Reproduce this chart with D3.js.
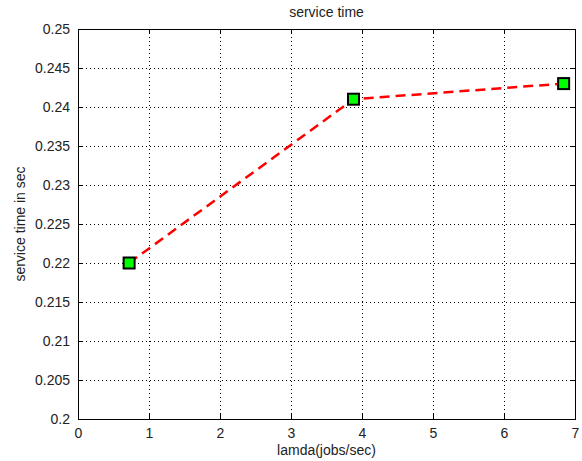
<!DOCTYPE html>
<html>
<head>
<meta charset="utf-8">
<script src="https://cdn.jsdelivr.net/npm/d3@7"></script>
<style>
  body { margin: 0; background: #fff; }
  text { font-family: "Liberation Sans", Arial, sans-serif; fill: #222; }
</style>
</head>
<body>
<div id="chart"></div>
<script>
// data
let lamda = [0.72, 3.88, 6.84];
let serviceTime = [0.220, 0.241, 0.243];
let xTicks = [0, 1, 2, 3, 4, 5, 6, 7];
let yTicks = [0.2, 0.205, 0.21, 0.215, 0.22, 0.225, 0.23, 0.235, 0.24, 0.245, 0.25];

let width = 582, height = 461;
let margin = {left: 78, right: 7, top: 29, bottom: 42};
let w = width - margin.left - margin.right;
let h = height - margin.top - margin.bottom;

let svg = d3.select('#chart')
    .append("svg")
    .attr("width", width)
    .attr("height", height);

let g = svg.append("g")
    .attr("transform", "translate(" + margin.left + "," + margin.top + ")");

let x = d3.scaleLinear().domain([0, 7]).range([0, w]);
let y = d3.scaleLinear().domain([0.2, 0.25]).range([h, 0]);

// grid
g.append("g").selectAll("line").data(xTicks.slice(1, -1)).enter()
    .append("line")
    .attr("x1", d => x(d)).attr("x2", d => x(d))
    .attr("y1", 0).attr("y2", h)
    .attr("stroke", "#000").attr("stroke-width", 1)
    .attr("stroke-dasharray", "1,3")
    .attr("shape-rendering", "crispEdges");
g.append("g").selectAll("line").data(yTicks.slice(1, -1)).enter()
    .append("line")
    .attr("y1", d => y(d)).attr("y2", d => y(d))
    .attr("x1", 0).attr("x2", w)
    .attr("stroke", "#000").attr("stroke-width", 1)
    .attr("stroke-dasharray", "1,3")
    .attr("shape-rendering", "crispEdges");

// axes, ticks inward
let fmt = d => d3.format("")(+d.toFixed(3));
g.append("g").attr("transform", "translate(0," + h + ")")
    .call(d3.axisBottom(x).tickValues(xTicks).tickSize(-5).tickPadding(9).tickFormat(fmt));
g.append("g")
    .call(d3.axisLeft(y).tickValues(yTicks).tickSize(-5).tickPadding(8).tickFormat(fmt));
g.append("g")
    .call(d3.axisTop(x).tickValues(xTicks).tickSize(-5).tickFormat(""));
g.append("g").attr("transform", "translate(" + w + ",0)")
    .call(d3.axisRight(y).tickValues(yTicks).tickSize(-5).tickFormat(""));
g.selectAll(".domain").attr("stroke", "#000");
g.selectAll(".tick line").attr("stroke", "#000");
g.selectAll(".tick text").style("font-size", "14px").attr("fill", "#222");

// line
let line = d3.line().x((d, i) => x(lamda[i])).y(d => y(d));
g.append("path")
    .datum(serviceTime)
    .attr("d", line)
    .attr("fill", "none")
    .attr("stroke", "#ff0000")
    .attr("stroke-width", 2.5)
    .attr("stroke-dasharray", "10,6");

// markers
g.selectAll("rect.mk").data(serviceTime).enter()
    .append("rect")
    .attr("class", "mk")
    .attr("x", (d, i) => x(lamda[i]) - 5.5)
    .attr("y", d => y(d) - 5.5)
    .attr("width", 11).attr("height", 11)
    .attr("fill", "#00ff00")
    .attr("stroke", "#000")
    .attr("stroke-width", 2);

// labels
svg.append("text")
    .attr("x", margin.left + w / 2).attr("y", 17)
    .style("text-anchor", "middle").style("font-size", "14px")
    .text("service time");
svg.append("text")
    .attr("x", margin.left + w / 2).attr("y", 455)
    .style("text-anchor", "middle").style("font-size", "14px")
    .text("lamda(jobs/sec)");
svg.append("text")
    .attr("transform", "translate(25," + (margin.top + h / 2) + ") rotate(270)")
    .style("text-anchor", "middle").style("font-size", "14px")
    .text("service time in sec");
</script>
</body>
</html>
